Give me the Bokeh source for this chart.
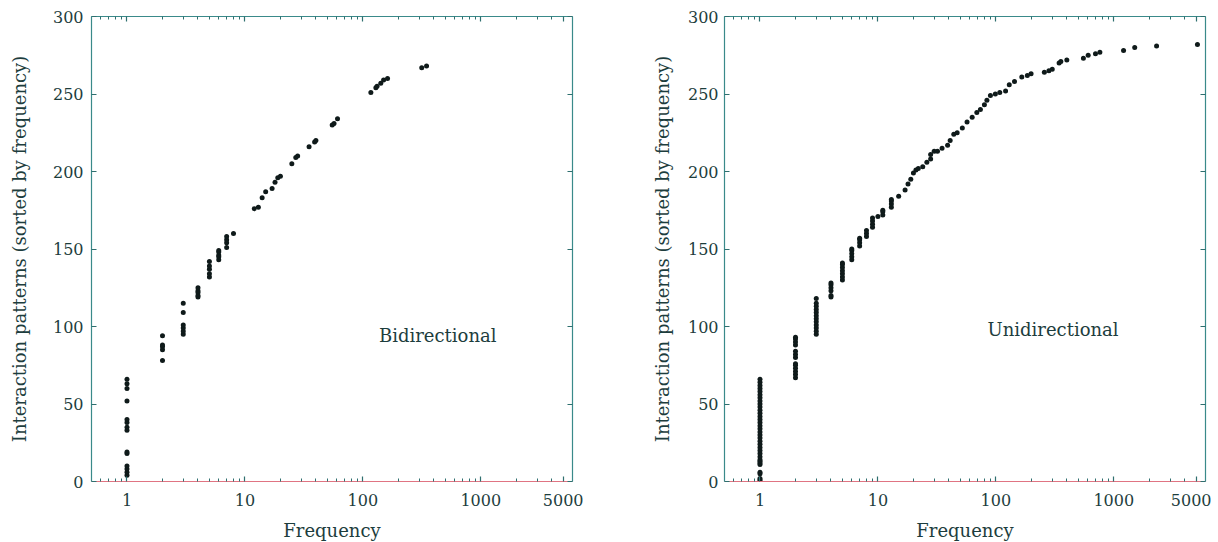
from bokeh.plotting import figure
from bokeh.models import (Range1d, FixedTicker, LogAxis, LinearAxis, Label,
                          CustomJSTickFormatter, PrintfTickFormatter, ColumnDataSource)
from bokeh.layouts import row
from bokeh.embed import file_html
from bokeh.resources import INLINE

# ---------------- data ----------------
bi_freq = [1] * 14 + [2] * 5 + [3] * 6 + [4] * 5 + [5] * 5 + [6] * 5 + [7] * 4 + [8] + \
    [12, 13, 14, 15, 17, 18, 19, 20, 25, 27, 28, 35, 39, 40, 55, 57, 61,
     117, 129, 132, 142, 150, 162, 316, 347]
bi_rank = [4, 6, 8, 10, 18, 19, 33, 35, 38, 40, 52, 60, 63, 66,
           78, 85, 87, 88, 94,
           95, 97, 99, 101, 109, 115,
           119, 120, 122, 123, 125,
           132, 134, 137, 139, 142,
           143, 145, 146, 148, 149,
           151, 154, 156, 158,
           160,
           176, 177, 183, 187, 189, 193, 196, 197, 205, 209, 210, 216, 219, 220,
           230, 231, 234, 251, 254, 255, 257, 259, 260, 267, 268]

uni_freq = [1] * 35 + [2] * 13 + [3] * 12 + [4] * 6 + [5] * 7 + [6] * 5 + [7] * 4 + \
    [8] * 3 + [9] * 4 + [10] + [11] * 3 + [13] * 4 + \
    [15, 17, 18, 19, 20, 21, 22, 24, 26, 28, 28, 30, 32, 35, 39, 41, 44, 47,
     52, 57, 63, 69, 74, 80, 84, 90, 99, 108, 121, 130, 144, 166, 185, 199,
     258, 282, 301, 344, 356, 400, 553, 607, 700, 763, 1211, 1506, 2308, 5126]
uni_rank = [0, 1, 2, 5, 6, 11, 12, 13, 14,
            16, 18, 20, 22, 24, 26, 28, 30, 32, 34, 36, 38, 40, 42, 44, 46,
            48, 50, 52, 54, 56, 58, 60, 62, 64, 66,
            67, 69, 71, 73, 75, 76, 80, 82, 84, 88, 90, 92, 93,
            95, 97, 99, 101, 103, 105, 107, 109, 111, 113, 115, 118,
            119, 120, 123, 125, 127, 128,
            130, 132, 134, 136, 138, 140, 141,
            143, 145, 147, 149, 150,
            152, 154, 156, 157,
            158, 160, 162,
            164, 166, 168, 170,
            171,
            172, 174, 175,
            177, 179, 181, 182,
            184, 188, 192, 195, 199, 201, 202, 203, 206, 208, 211, 213, 213,
            215, 217, 220, 224, 225, 228, 232, 235, 238, 240, 243, 246, 249,
            250, 251, 252, 256, 258, 261, 262, 263, 264, 265, 266, 270, 271,
            272, 273, 275, 276, 277, 278, 280, 281, 282]

x_tick_values = [1, 10, 100, 1000, 5000]
y_tick_values = [0, 50, 100, 150, 200, 250, 300]
x_minor_values = [m * 10 ** k for k in range(-1, 4) for m in range(2, 10)
                  if 0.55 < m * 10 ** k < 5500 and m * 10 ** k != 5000]

FONT = "DejaVu Serif"
TEXT = "#1d3d3d"
TEAL = "#3a8a8a"
RED = "#e07482"
TICK = "#2f6f6f"
DOT = "#0f1a1a"


def style_axis(ax, line_color, labels=True):
    ax.axis_line_color = line_color
    ax.axis_line_width = 1.2
    ax.major_tick_line_color = TICK
    ax.minor_tick_line_color = TICK
    ax.major_tick_line_width = 1.2
    ax.minor_tick_line_width = 1
    ax.major_tick_in = 5
    ax.major_tick_out = 0
    ax.minor_tick_in = 3
    ax.minor_tick_out = 0
    ax.major_label_text_font = FONT
    ax.major_label_text_font_size = "16px"
    ax.major_label_text_color = TEXT
    ax.axis_label_text_font = FONT
    ax.axis_label_text_font_size = "18px"
    ax.axis_label_text_font_style = "normal"
    ax.axis_label_text_color = TEXT
    if not labels:
        ax.formatter = CustomJSTickFormatter(code="return '';")
        ax.major_label_standoff = 0


def panel(freq, rank, name, lx, ly, b_left, b_right, ylab_standoff, ytick_standoff):
    p = figure(x_axis_type="log", x_range=Range1d(0.5, 6000), y_range=Range1d(0, 300),
               frame_width=481, frame_height=465,
               min_border_left=b_left, min_border_right=b_right,
               min_border_top=16, min_border_bottom=50,
               output_backend="svg", toolbar_location=None)
    p.outline_line_color = None
    p.xgrid.visible = False
    p.ygrid.visible = False
    p.background_fill_color = "white"
    p.border_fill_color = "white"

    xt = FixedTicker(ticks=x_tick_values, minor_ticks=x_minor_values)
    yt = FixedTicker(ticks=y_tick_values, minor_ticks=[])

    xa = p.xaxis[0]
    xa.ticker = xt
    xa.formatter = PrintfTickFormatter(format="%d")
    xa.axis_label = "Frequency"
    xa.major_label_standoff = 12
    xa.axis_label_standoff = 11
    style_axis(xa, RED)

    ya = p.yaxis[0]
    ya.ticker = yt
    ya.axis_label = "Interaction patterns (sorted by frequency)"
    ya.major_label_standoff = ytick_standoff
    ya.axis_label_standoff = ylab_standoff
    style_axis(ya, TEAL)

    top = LogAxis(ticker=xt)
    style_axis(top, TEAL, labels=False)
    p.add_layout(top, "above")
    right = LinearAxis(ticker=yt)
    style_axis(right, TEAL, labels=False)
    p.add_layout(right, "right")

    src = ColumnDataSource(dict(f=freq, r=rank))
    p.scatter(x="f", y="r", source=src, size=5, color=DOT, line_width=0)

    p.add_layout(Label(x=lx, y=ly, text=name, text_font=FONT, text_font_size="18px",
                       text_color=TEXT, text_baseline="middle", text_align="left"))
    return p


p1 = panel(bi_freq, bi_rank, "Bidirectional", 137, 94, 91, 48, 20, 8)
p2 = panel(uni_freq, uni_rank, "Unidirectional", 85, 98, 104, 6, 12, 6)

layout = row(p1, p2)
open("out.html", "w").write(file_html(layout, INLINE))
